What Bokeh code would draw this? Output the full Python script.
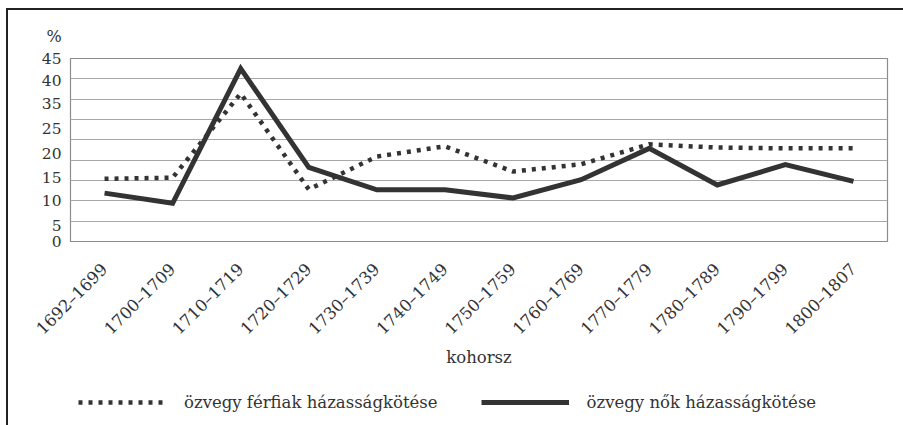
from math import pi
from bokeh.plotting import figure
from bokeh.layouts import column
from bokeh.models import FactorRange, Range1d, FixedTicker, Legend, LegendItem
from bokeh.embed import file_html
from bokeh.resources import INLINE

# ---- data ----
cohorts = ["1692–1699", "1700–1709", "1710–1719", "1720–1729", "1730–1739",
           "1740–1749", "1750–1759", "1760–1769", "1770–1779", "1780–1789",
           "1790–1799", "1800–1807"]
widowers = [15.4, 15.7, 36.4, 12.8, 20.9, 23.4, 17.2, 19.0, 23.9, 23.1, 22.9, 22.9]
widows = [11.9, 9.4, 42.5, 18.2, 12.7, 12.7, 10.7, 15.2, 22.9, 13.9, 18.9, 14.8]
series_names = ["özvegy férfiak házasságkötése", "özvegy nők házasságkötése"]
grid_values = [0, 5, 10, 15, 20, 25, 30, 35, 40, 45]
y_tick_labels = ["0", "5", "10", "15", "20", "25", "35", "40", "45"]
# (the original's tick labels are unevenly typeset against its gridlines)
y_label_at = [0, 4.0, 10.0, 15.8, 21.7, 27.8, 34.0, 39.6, 45]

SERIF = "DejaVu Serif"
INK = "#333333"
DOTTED = dict(line_color=INK, line_width=4.5, line_dash="4 6", line_cap="butt",
              line_join="miter")
SOLID = dict(line_color=INK, line_width=5, line_join="miter")

p = figure(width=895, height=375, x_range=FactorRange(*cohorts),
           y_range=Range1d(0, 45), output_backend="svg", toolbar_location=None,
           min_border_left=62, min_border_right=16, min_border_top=48,
           min_border_bottom=144)

p.background_fill_color = "white"
p.border_fill_color = "white"
p.outline_line_color = "#8c8c8c"
p.outline_line_width = 1.2

p.xgrid.visible = False
p.ygrid.ticker = FixedTicker(ticks=grid_values)
p.ygrid.grid_line_color = "#a8a8a8"
p.ygrid.grid_line_width = 1.2

p.line(cohorts, widowers, **DOTTED)
p.line(cohorts, widows, **SOLID)

yax = p.yaxis[0]
yax.ticker = FixedTicker(ticks=y_label_at)
yax.major_label_overrides = {v: t for v, t in zip(y_label_at, y_tick_labels)}
yax.axis_line_color = None
yax.major_tick_line_color = None
yax.minor_tick_line_color = None
yax.major_tick_out = 0
yax.major_tick_in = 0
yax.major_label_standoff = 9
yax.major_label_text_font = SERIF
yax.major_label_text_font_size = "15.5px"
yax.major_label_text_color = INK

xax = p.xaxis[0]
xax.axis_line_color = None
xax.major_tick_line_color = None
xax.major_tick_out = 0
xax.major_tick_in = 0
xax.major_label_orientation = pi / 4
xax.major_label_standoff = 25
xax.major_label_text_font = SERIF
xax.major_label_text_font_size = "16.5px"
xax.major_label_text_color = INK
xax.axis_label = "kohorsz"
xax.axis_label_text_font = SERIF
xax.axis_label_text_font_style = "normal"
xax.axis_label_text_font_size = "16.5px"
xax.axis_label_text_color = INK
xax.axis_label_standoff = 0

p.title.text = "%"
p.title.text_font = SERIF
p.title.text_font_style = "normal"
p.title.text_font_size = "16px"
p.title.text_color = INK
p.title.align = "left"
p.title.offset = -24
p.title.standoff = 26

# ---- legend strip below the chart (key samples only, no data drawn) ----
q = figure(width=895, height=41, output_backend="svg", toolbar_location=None,
           x_axis_type=None, y_axis_type=None, min_border=0,
           min_border_left=0, min_border_right=0, min_border_top=0,
           min_border_bottom=0,
           x_range=Range1d(0, 1), y_range=Range1d(0, 1))
q.outline_line_color = None
q.grid.visible = False
q.background_fill_color = "white"
q.border_fill_color = "white"
nan = float("nan")
k1 = q.line([nan], [nan], **DOTTED)
k2 = q.line([nan], [nan], **SOLID)

legend = Legend(items=[LegendItem(label=series_names[0], renderers=[k1]),
                       LegendItem(label=series_names[1], renderers=[k2])],
                orientation="horizontal", location=(8, 14),
                glyph_width=88, glyph_height=20, label_standoff=18, spacing=43,
                padding=0, margin=0, border_line_color=None,
                background_fill_alpha=0,
                label_text_font=SERIF, label_text_font_size="16.5px",
                label_text_color=INK)
q.add_layout(legend)

layout = column(p, q, spacing=0,
                styles={"margin-left": "6px", "margin-top": "8px",
                        "border-top": "2px solid #222",
                        "border-left": "2px solid #222"})

open("out.html", "w").write(file_html(layout, INLINE))
